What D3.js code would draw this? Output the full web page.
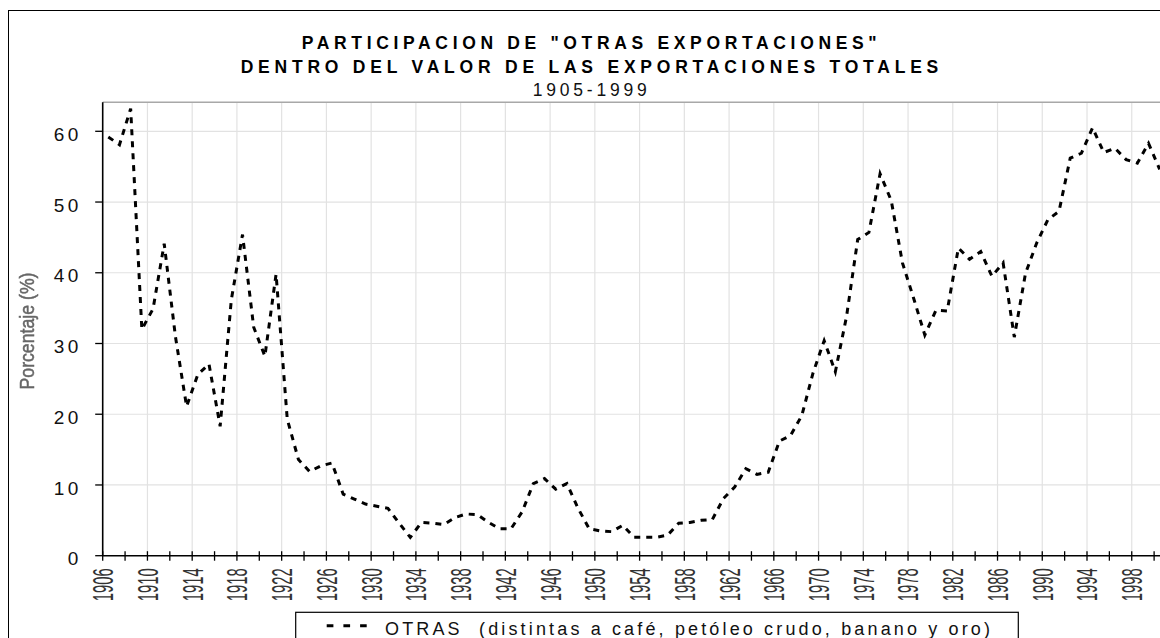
<!DOCTYPE html>
<html><head><meta charset="utf-8">
<script src="https://cdn.jsdelivr.net/npm/d3@7"></script>
<style>
body{margin:0;background:#fff;}
svg{display:block;}
text{font-family:"Liberation Sans",Arial,sans-serif;}
</style>
</head><body>
<svg id="c" width="1160" height="638"></svg>
<script>
// ---------- data ----------
const titleLine1 = 'PARTICIPACION DE "OTRAS EXPORTACIONES"';
const titleLine2 = 'DENTRO DEL VALOR DE LAS EXPORTACIONES TOTALES';
const titleLine3 = '1905-1999';
const yAxisTitle = 'Porcentaje (%)';
const legendLabel = 'OTRAS  (distintas a café, petóleo crudo, banano y oro)';
const firstYear = 1906;
const otrasValues = [
  59.2, 58.1, 63.2, 32.0, 34.9, 44.1, 31.0, 21.1, 25.6, 27.1,
  18.3, 36.2, 45.4, 32.3, 28.2, 39.8, 19.3, 13.6, 11.9, 12.7,
  13.1, 8.7, 8.0, 7.3, 7.0, 6.7, 4.6, 2.6, 4.7, 4.6,
  4.4, 5.4, 5.9, 5.8, 4.7, 3.8, 3.8, 6.2, 10.2, 10.9,
  9.4, 10.2, 6.7, 3.8, 3.5, 3.4, 4.3, 2.6, 2.6, 2.6,
  2.9, 4.6, 4.7, 5.0, 5.1, 8.1, 9.7, 12.3, 11.5, 11.8,
  16.2, 17.0, 19.8, 25.8, 30.4, 26.0, 33.8, 44.7, 45.7, 54.0,
  50.2, 41.4, 36.4, 31.2, 34.7, 34.6, 43.5, 41.9, 43.0, 39.5,
  41.4, 30.9, 39.9, 44.2, 47.5, 48.7, 56.2, 56.9, 60.5, 57.0,
  57.6, 56.0, 55.5, 58.3, 54.6
];
const years = otrasValues.map((v, i) => firstYear + i);
const yTickValues = [0, 10, 20, 30, 40, 50, 60];
const xLabelYears = d3.range(1906, 2001, 4);   // 1906 ... 1998
const xTickYears = d3.range(1906, 2001, 2);
const yMax = 64.1;

// ---------- layout ----------
const svg = d3.select('#c');
const plot = {left: 102.7, right: 1165.3, top: 102.3, bottom: 555.7};

const x = d3.scaleLinear().domain([1906, 2001]).range([plot.left, plot.right]);
const y = d3.scaleLinear().domain([0, yMax]).range([plot.bottom, plot.top]);

const data = years.map((yr, i) => ({year: yr, value: otrasValues[i]}));

// outer chart border
svg.append('rect').attr('x', 8.5).attr('y', 10.5).attr('width', 1170).attr('height', 700)
  .attr('fill', 'none').attr('stroke', '#000').attr('stroke-width', 1);

// helper: letter-space a text to span [left,right]
function fitText(sel, left, right) {
  sel.attr('x', left).attr('text-anchor', 'start').style('letter-spacing', '0px');
  const n = sel.text().length;
  const w = sel.node().getComputedTextLength();
  const ls = (right - left - w) / (n - 1);
  sel.style('letter-spacing', ls + 'px');
}

// titles
fitText(svg.append('text').attr('y', 48.7).attr('font-size', 17.5).attr('font-weight', 'bold')
  .attr('fill', '#000').text(titleLine1), 301.7, 876.7);
fitText(svg.append('text').attr('y', 72.7).attr('font-size', 17.5).attr('font-weight', 'bold')
  .attr('fill', '#000').text(titleLine2), 240.7, 938.3);
fitText(svg.append('text').attr('y', 96).attr('font-size', 17.5)
  .attr('fill', '#111').text(titleLine3), 532.7, 646.7);

// gridlines
const grid = svg.append('g').attr('stroke', '#e2e2e2').attr('stroke-width', 1.2);
grid.selectAll('line.h').data(yTickValues.filter(v => v > 0)).join('line')
  .attr('x1', plot.left).attr('x2', plot.right)
  .attr('y1', d => y(d)).attr('y2', d => y(d));
grid.selectAll('line.v').data(xLabelYears.filter(v => v > 1906)).join('line')
  .attr('x1', d => x(d)).attr('x2', d => x(d))
  .attr('y1', plot.top).attr('y2', plot.bottom);

// plot area top border (gray)
svg.append('line').attr('x1', plot.left).attr('x2', plot.right)
  .attr('y1', plot.top).attr('y2', plot.top).attr('stroke', '#a8a8a8').attr('stroke-width', 1.6);

// y axis
svg.append('line').attr('x1', plot.left).attr('x2', plot.left)
  .attr('y1', plot.top).attr('y2', plot.bottom).attr('stroke', '#000').attr('stroke-width', 1.6);
svg.append('g').selectAll('line').data(yTickValues).join('line')
  .attr('x1', plot.left - 7.5).attr('x2', plot.left)
  .attr('y1', d => y(d)).attr('y2', d => y(d))
  .attr('stroke', '#000').attr('stroke-width', 1.3);
svg.append('g').selectAll('text').data(yTickValues).join('text')
  .attr('x', 78.3 + 3.5).attr('y', d => y(d) + 9.6)
  .attr('text-anchor', 'end').attr('font-size', 19).style('letter-spacing', '3.5px')
  .attr('fill', '#111').text(d => d);

// y axis title
const defs = svg.append('defs');
defs.append('filter').attr('id', 'soft').append('feGaussianBlur').attr('stdDeviation', 0.6);
svg.append('text')
  .attr('transform', `translate(34,${(plot.top + plot.bottom) / 2 + 2}) rotate(-90)`)
  .attr('text-anchor', 'middle').attr('font-size', 21)
  .attr('textLength', 117).attr('lengthAdjust', 'spacingAndGlyphs')
  .attr('fill', '#666').attr('stroke', '#666').attr('stroke-width', 0.5)
  .attr('filter', 'url(#soft)')
  .text(yAxisTitle);

// x axis
svg.append('line').attr('x1', plot.left).attr('x2', plot.right)
  .attr('y1', plot.bottom).attr('y2', plot.bottom).attr('stroke', '#000').attr('stroke-width', 1.6);
svg.append('g').selectAll('line').data(xTickYears).join('line')
  .attr('x1', d => x(d)).attr('x2', d => x(d))
  .attr('y1', plot.bottom - 4.5).attr('y2', plot.bottom + 5)
  .attr('stroke', '#000').attr('stroke-width', 1.3);
svg.append('g').selectAll('text').data(xLabelYears).join('text')
  .attr('transform', d => `translate(${x(d)},${plot.bottom + 12.5}) rotate(-90)`)
  .attr('text-anchor', 'end').attr('dy', '0.36em').attr('font-size', 29)
  .attr('textLength', 33).attr('lengthAdjust', 'spacingAndGlyphs')
  .attr('fill', '#333').text(d => d);

// data line
const line = d3.line().x(d => x(d.year + 0.5)).y(d => y(d.value));
svg.append('path').datum(data).attr('d', line)
  .attr('fill', 'none').attr('stroke', '#000').attr('stroke-width', 3)
  .attr('stroke-dasharray', '6,6');

// legend
const lg = svg.append('g');
lg.append('rect').attr('x', 295.7).attr('y', 612.3).attr('width', 722.6).attr('height', 60)
  .attr('fill', '#fff').attr('stroke', '#000').attr('stroke-width', 1.2);
lg.append('line').attr('x1', 326.7).attr('x2', 366.7).attr('y1', 625.7).attr('y2', 625.7)
  .attr('stroke', '#000').attr('stroke-width', 3).attr('stroke-dasharray', '6.7,10');
const lt = lg.append('text').attr('y', 634.5).attr('font-size', 18).attr('fill', '#111')
  .style('white-space', 'pre').text(legendLabel);
fitText(lt, 385, 990);
</script>
</body></html>
